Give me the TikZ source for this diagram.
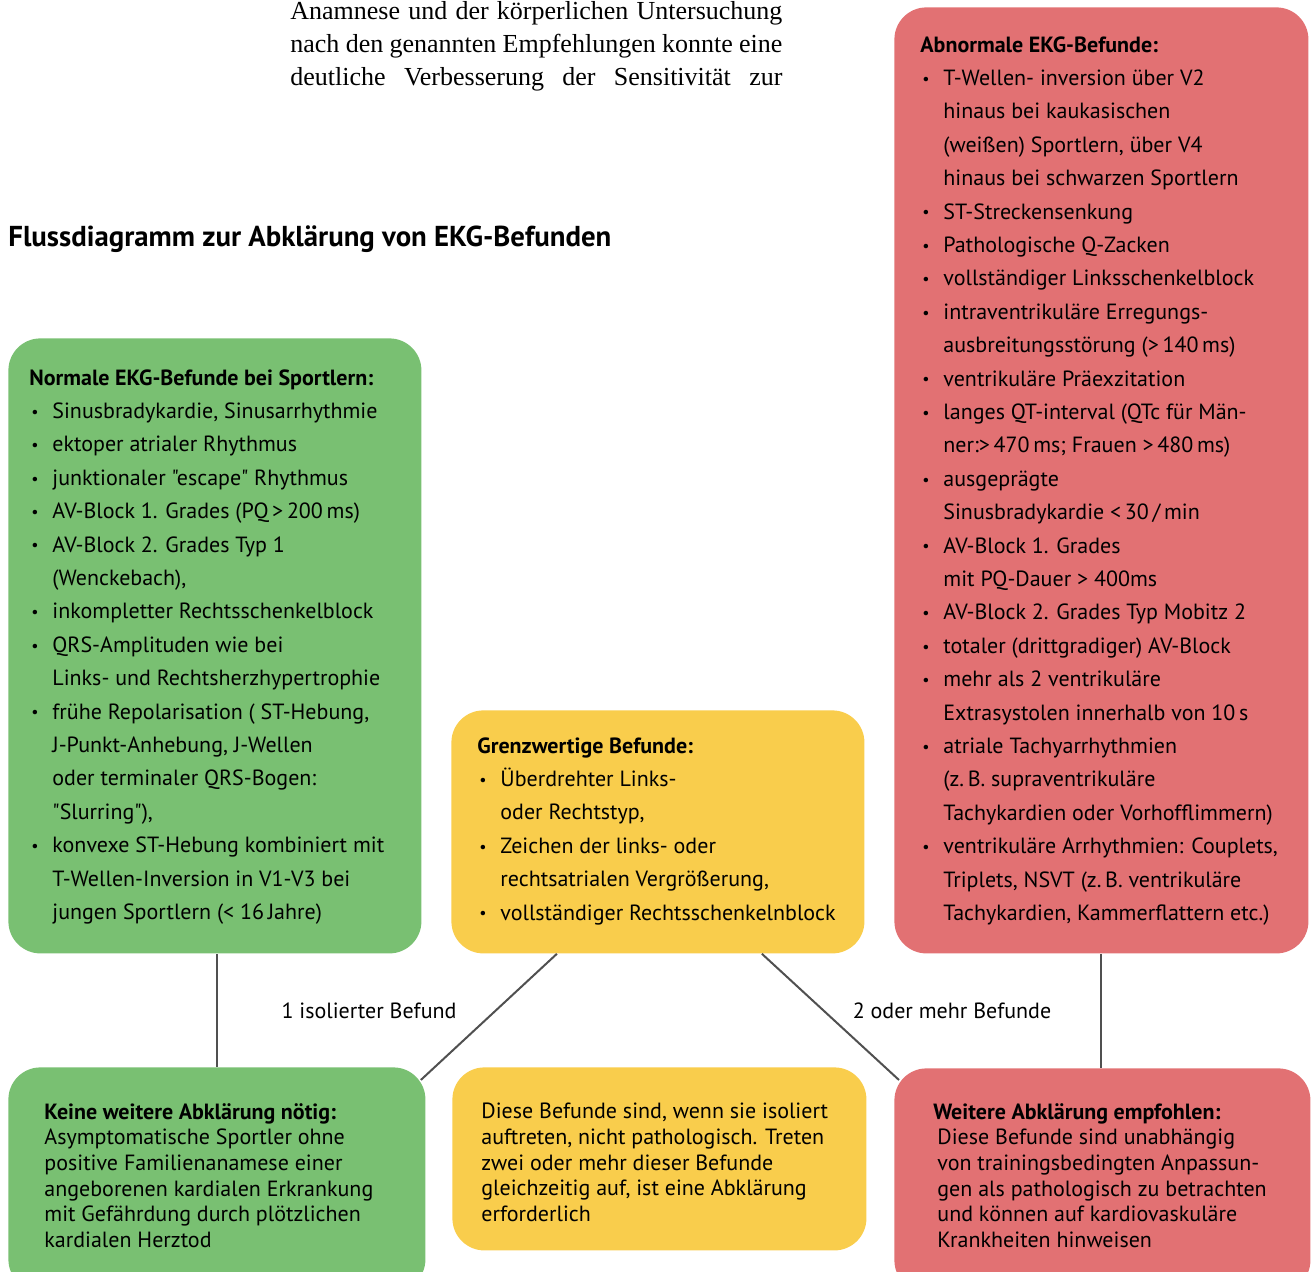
\documentclass[tikz,border=0pt]{standalone}
\usepackage{fontspec}
\setmainfont{PT Sans}[Ligatures=TeXOff]
\newfontfamily\serif{Liberation Serif}
\usetikzlibrary{positioning,calc}

\definecolor{gruen}{RGB}{121,192,114}
\definecolor{gelb}{RGB}{249,205,76}
\definecolor{rot}{RGB}{226,113,115}
\definecolor{linie}{RGB}{80,80,80}

\newcommand\pkt{\makebox[11.5pt][l]{\hspace{1pt}\raisebox{0.6pt}{\footnotesize\textbullet}}}
\newcommand\wtr{\hspace*{11.5pt}}
\newcommand\zeile[1]{\makebox[246pt][s]{#1}}

\tikzset{
  box/.style={rounded corners=16pt, inner sep=0pt, anchor=north west},
  liste/.style={align=left, anchor=north west, inner sep=0pt,
    font=\fontsize{11}{16.7}\selectfont},
  kurz/.style={align=left, anchor=north west, inner sep=0pt,
    font=\fontsize{11}{12.8}\selectfont},
  fliess/.style={align=left, anchor=north west, inner sep=0pt,
    font=\serif\fontsize{13}{16.5}\selectfont},
  titel/.style={anchor=base west, inner sep=0pt,
    font=\bfseries\fontsize{14.4}{16}\selectfont},
  verb/.style={draw=linie, line width=1pt},
}

\begin{document}
\begin{tikzpicture}[x=0.5pt,y=-0.5pt]
  \useasboundingbox (0,0) rectangle (1311,1272);

  \node[fliess] (absatz) at (290,1) {\zeile{Anamnese und der körperlichen Untersuchung}\\
    \zeile{nach den genannten Empfehlungen konnte eine}\\
    \zeile{deutliche Verbesserung der Sensitivität zur}};
  \node[titel] (ueberschrift) at (8,247) {Flussdiagramm zur Abklärung von EKG-Befunden};

  % obere Reihe
  \node[box, fill=gruen, minimum width=206.5pt, minimum height=307.5pt] (normal) at (8,338) {};
  \node[box, fill=gelb, minimum width=206.5pt, minimum height=121.5pt] (grenz) at (451,710) {};
  \node[box, fill=rot, minimum width=207pt, minimum height=473pt] (abnormal) at (894,7) {};

  % untere Reihe
  \node[box, fill=gruen, minimum width=208.5pt, minimum height=112pt] (keine) at (8,1067) {};
  \node[box, fill=gelb, minimum width=207pt, minimum height=91.5pt] (diese) at (452,1067) {};
  \node[box, fill=rot, minimum width=208pt, minimum height=112pt] (weitere) at (894,1068) {};

  \node[liste] (normaltext) at ($(normal.north west)+(21,31)$) {\textbf{Normale EKG-Befunde bei Sportlern:}\\
    \pkt Sinusbradykardie, Sinusarrhythmie\\
    \pkt ektoper atrialer Rhythmus\\
    \pkt junktionaler "escape" Rhythmus\\
    \pkt AV-Block 1. Grades (PQ\,>\,200\,ms)\\
    \pkt AV-Block 2. Grades Typ 1\\
    \wtr(Wenckebach),\\
    \pkt inkompletter Rechtsschenkelblock\\
    \pkt QRS-Amplituden wie bei\\
    \wtr Links- und Rechtsherzhypertrophie\\
    \pkt frühe Repolarisation ( ST-Hebung,\\
    \wtr J-Punkt-Anhebung, J-Wellen\\
    \wtr oder terminaler QRS-Bogen:\\
    \wtr"Slurring"),\\
    \pkt konvexe ST-Hebung kombiniert mit\\
    \wtr T-Wellen-Inversion in V1-V3 bei\\
    \wtr jungen Sportlern (< 16\,Jahre)};

  \node[liste] (grenztext) at ($(grenz.north west)+(26,27)$) {\textbf{Grenzwertige Befunde:}\\
    \pkt Überdrehter Links-\\
    \wtr oder Rechtstyp,\\
    \pkt Zeichen der links- oder\\
    \wtr rechtsatrialen Vergrößerung,\\
    \pkt vollständiger Rechtsschenkelnblock};

  \node[liste] (abnormaltext) at ($(abnormal.north west)+(26,29)$) {\textbf{Abnormale EKG-Befunde:}\\
    \pkt T-Wellen- inversion über V2\\
    \wtr hinaus bei kaukasischen\\
    \wtr (weißen) Sportlern, über V4\\
    \wtr hinaus bei schwarzen Sportlern\\
    \pkt ST-Streckensenkung\\
    \pkt Pathologische Q-Zacken\\
    \pkt vollständiger Linksschenkelblock\\
    \pkt intraventrikuläre Erregungs-\\
    \wtr ausbreitungsstörung (>\,140\,ms)\\
    \pkt ventrikuläre Präexzitation\\
    \pkt langes QT-interval (QTc für Män-\\
    \wtr ner:>\,470\,ms; Frauen >\,480\,ms)\\
    \pkt ausgeprägte\\
    \wtr Sinusbradykardie <\,30\,/\,min\\
    \pkt AV-Block 1. Grades\\
    \wtr mit PQ-Dauer > 400ms\\
    \pkt AV-Block 2. Grades Typ Mobitz 2\\
    \pkt totaler (drittgradiger) AV-Block\\
    \pkt mehr als 2 ventrikuläre\\
    \wtr Extrasystolen innerhalb von 10\,s\\
    \pkt atriale Tachyarrhythmien\\
    \wtr (z.\,B. supraventrikuläre\\
    \wtr Tachykardien oder Vorhofflimmern)\\
    \pkt ventrikuläre Arrhythmien: Couplets,\\
    \wtr Triplets, NSVT (z.\,B. ventrikuläre\\
    \wtr Tachykardien, Kammerflattern etc.)};

  \node[kurz] (keinetext) at ($(keine.north west)+(36,36)$) {\textbf{Keine weitere Abklärung nötig:}\\
    Asymptomatische Sportler ohne\\
    positive Familienanamese einer\\
    angeborenen kardialen Erkrankung\\
    mit Gefährdung durch plötzlichen\\
    kardialen Herztod};

  \node[kurz] (diesetext) at ($(diese.north west)+(29,36)$) {Diese Befunde sind, wenn sie isoliert\\
    auftreten, nicht pathologisch. Treten\\
    zwei oder mehr dieser Befunde\\
    gleichzeitig auf, ist eine Abklärung\\
    erforderlich};

  \node[kurz] (weiteretext) at ($(weitere.north west)+(39,35)$) {\textbf{Weitere Abklärung empfohlen:}\\
    \hspace*{2pt}Diese Befunde sind unabhängig\\
    \hspace*{2pt}von trainingsbedingten Anpassun-\\
    \hspace*{2pt}gen als pathologisch zu betrachten\\
    \hspace*{2pt}und können auf kardiovaskuläre\\
    \hspace*{2pt}Krankheiten hinweisen};

  \draw[verb] (keine.north) -- (keine.north |- normal.south);
  \draw[verb] ($(grenz.south)+(-101,0)$) -- ($(keine.north east)+(-5,13)$);
  \draw[verb] ($(grenz.south)+(104,0)$) -- ($(weitere.north west)+(5,12)$);
  \draw[verb] (abnormal.south) -- (abnormal.south |- weitere.north);

  \node[font=\fontsize{11}{13}\selectfont] (einzeln) at (369,1011) {1 isolierter Befund};
  \node[font=\fontsize{11}{13}\selectfont] (mehrere) at (952,1011) {2 oder mehr Befunde};
\end{tikzpicture}
\end{document}
